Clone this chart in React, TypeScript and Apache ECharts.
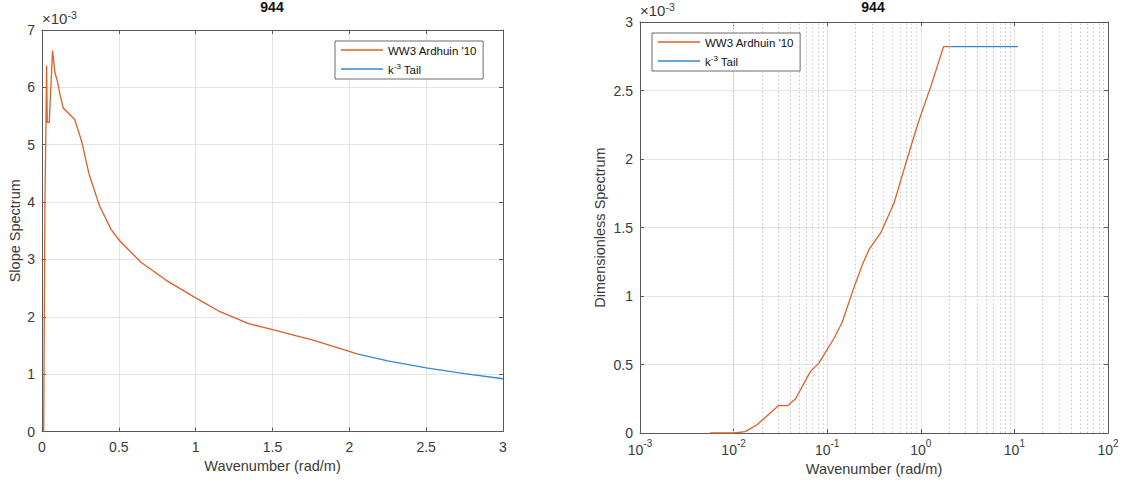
import React, { useEffect, useRef } from "react";
import * as echarts from "echarts";

// Left panel: Slope spectrum (values in units of 1e-3)
const leftOrangeX = [0.011, 0.019, 0.026, 0.030, 0.034, 0.047, 0.069, 0.084, 0.099, 0.116, 0.138, 0.213, 0.257, 0.306, 0.375, 0.45, 0.504, 0.644, 0.806, 1.0, 1.15, 1.345, 1.495, 1.668, 1.754, 2.056];
const leftOrangeY = [0, 4.0, 5.4, 6.38, 5.39, 5.39, 6.64, 6.26, 6.12, 5.89, 5.64, 5.44, 5.07, 4.49, 3.93, 3.52, 3.33, 2.95, 2.64, 2.33, 2.10, 1.88, 1.78, 1.66, 1.60, 1.35];
const leftBlueX = [2.056, 2.25, 2.5, 2.75, 3.0];
const leftBlueY = [1.35, 1.23, 1.11, 1.01, 0.92];

// Right panel: Dimensionless spectrum (values in units of 1e-3)
const rightOrangeX = [0.0056, 0.01, 0.0133, 0.0178, 0.0303, 0.0379, 0.0459, 0.0664, 0.0815, 0.118, 0.145, 0.186, 0.238, 0.28, 0.373, 0.519, 0.7, 0.885, 1.0, 1.28, 1.75, 2.07];
const rightOrangeY = [0, 0, 0.01, 0.06, 0.20, 0.20, 0.25, 0.45, 0.51, 0.69, 0.81, 1.03, 1.23, 1.34, 1.46, 1.68, 1.98, 2.21, 2.32, 2.53, 2.82, 2.82];
const rightBlueX = [2.07, 10.9];
const rightBlueY = [2.82, 2.82];

const leftXTicks = [0, 3, 0.5];
const leftYTicks = [0, 7, 1];
const rightYTicks = [0, 3, 0.5];
const decades = [-3, -2, -1, 0, 1];
const minorMultipliers = [2, 3, 4, 5, 6, 7, 8, 9];

const seriesNames = ["WW3 Ardhuin '10", "k^-3 Tail"];
const titleText = "944";

const ORANGE = "#DE5F26";
const BLUE = "#2F8AD3";
const AXIS = "#5a5a5a";
const LABEL = "#3a3a3a";
const GRID = "#e4e4e4";
const FONT = "Liberation Sans, Arial, sans-serif";
const TICK_FS = 14;
const NAME_FS = 14.5;

const zip = (xs: number[], ys: number[]) => xs.map((x, i) => [x, ys[i]]);

export default function App() {
  const ref = useRef<HTMLDivElement>(null);
  useEffect(() => {
    document.body.style.margin = "0";
    if (!ref.current) return;
    const chart = echarts.init(ref.current, undefined, { renderer: "svg" });

    const minorX: number[] = [];
    decades.forEach((d) => minorMultipliers.forEach((m) => minorX.push(m * Math.pow(10, d))));

    const baseAxis = {
      axisLine: { show: true, onZero: false, lineStyle: { color: AXIS, width: 1 } },
      axisTick: { show: true, inside: true, length: 4, lineStyle: { color: AXIS } },
      axisLabel: { color: LABEL, fontSize: TICK_FS, fontFamily: FONT },
      nameTextStyle: { color: LABEL, fontSize: NAME_FS, fontFamily: FONT },
    };
    const hiddenAxis = {
      axisLine: { show: true, onZero: false, lineStyle: { color: AXIS, width: 1 } },
      axisTick: { show: true, inside: true, length: 4, lineStyle: { color: AXIS } },
      axisLabel: { show: false },
      splitLine: { show: false },
    };

    const logFormatter = (v: number) => `{b|10}{s|${Math.round(Math.log10(v))}}`;
    const logRich = {
      b: { fontSize: TICK_FS, color: LABEL, fontFamily: FONT, lineHeight: 19, verticalAlign: "bottom" },
      s: { fontSize: 10, color: LABEL, fontFamily: FONT, lineHeight: 10, verticalAlign: "top" },
    };

    const legendBase = {
      orient: "vertical",
      icon: "rect",
      itemWidth: 42,
      itemHeight: 1.5,
      itemGap: 5,
      padding: [4, 6, 3, 6],
      borderColor: "#6a6a6a",
      borderWidth: 1,
      backgroundColor: "#fff",
      selectedMode: false,
      data: seriesNames,
      formatter: (name: string) => (name === seriesNames[1] ? "{t|k}{s|-3}{t| Tail}" : `{t|${name}}`),
      textStyle: {
        fontFamily: FONT,
        color: "#111",
        fontSize: 11.5,
        rich: {
          t: { fontSize: 11.5, fontFamily: FONT, color: "#111", lineHeight: 14, verticalAlign: "bottom" },
          s: { fontSize: 8, fontFamily: FONT, color: "#111", lineHeight: 8, verticalAlign: "top" },
        },
      },
    };

    const superRich = {
      a: { fontSize: 15, fontFamily: FONT, fill: LABEL, lineHeight: 17, verticalAlign: "bottom" },
      s: { fontSize: 10.5, fontFamily: FONT, fill: LABEL, lineHeight: 10, verticalAlign: "top" },
    };

    const titleStyle = { fontSize: 14, fontWeight: "bold", color: "#111", fontFamily: FONT };

    const option: any = {
      animation: false,
      backgroundColor: "#fff",
      title: [
        { text: titleText, left: 272, top: 0, textAlign: "center", padding: 0, textStyle: titleStyle },
        { text: titleText, left: 873, top: 0, textAlign: "center", padding: 0, textStyle: titleStyle },
      ],
      legend: [
        { ...legendBase, left: 335, top: 41 },
        { ...legendBase, left: 652, top: 33 },
      ],
      graphic: [
        { type: "text", left: 42, top: 9, style: { text: "{a|×10}{s|-3}", rich: superRich } },
        { type: "text", left: 640, top: 1, style: { text: "{a|×10}{s|-3}", rich: superRich } },
      ],
      grid: [
        { left: 42, right: 622, top: 30, bottom: 53.5, containLabel: false },
        { left: 640, right: 17, top: 22, bottom: 52, containLabel: false },
      ],
      xAxis: [
        {
          ...baseAxis, gridIndex: 0, type: "value", min: leftXTicks[0], max: leftXTicks[1], interval: leftXTicks[2],
          name: "Wavenumber (rad/m)", nameLocation: "middle", nameGap: 27,
          axisLabel: { ...baseAxis.axisLabel, margin: 8 },
          splitLine: { show: true, lineStyle: { color: GRID, width: 1 } },
        },
        { ...hiddenAxis, gridIndex: 0, type: "value", position: "top", min: leftXTicks[0], max: leftXTicks[1], interval: leftXTicks[2] },
        {
          ...baseAxis, gridIndex: 1, type: "log", logBase: 10, min: 0.001, max: 100,
          name: "Wavenumber (rad/m)", nameLocation: "middle", nameGap: 28,
          axisLabel: { ...baseAxis.axisLabel, margin: 5, formatter: logFormatter, rich: logRich },
          splitLine: { show: true, lineStyle: { color: GRID, width: 1 } },
        },
        { ...hiddenAxis, gridIndex: 1, type: "log", logBase: 10, position: "top", min: 0.001, max: 100 },
      ],
      yAxis: [
        {
          ...baseAxis, gridIndex: 0, type: "value", min: leftYTicks[0], max: leftYTicks[1], interval: leftYTicks[2],
          name: "Slope Spectrum", nameLocation: "middle", nameGap: 20, nameRotate: 90,
          axisLabel: { ...baseAxis.axisLabel, margin: 7 },
          splitLine: { show: true, lineStyle: { color: GRID, width: 1 } },
        },
        { ...hiddenAxis, gridIndex: 0, type: "value", position: "right", min: leftYTicks[0], max: leftYTicks[1], interval: leftYTicks[2] },
        {
          ...baseAxis, gridIndex: 1, type: "value", min: rightYTicks[0], max: rightYTicks[1], interval: rightYTicks[2],
          name: "Dimensionless Spectrum", nameLocation: "middle", nameGap: 33, nameRotate: 90,
          axisLabel: { ...baseAxis.axisLabel, margin: 7 },
          splitLine: { show: true, lineStyle: { color: GRID, width: 1 } },
        },
        { ...hiddenAxis, gridIndex: 1, type: "value", position: "right", min: rightYTicks[0], max: rightYTicks[1], interval: rightYTicks[2] },
      ],
      series: [
        {
          name: seriesNames[0], type: "line", xAxisIndex: 0, yAxisIndex: 0, data: zip(leftOrangeX, leftOrangeY),
          symbol: "none", lineStyle: { color: ORANGE, width: 1.3 }, itemStyle: { color: ORANGE }, z: 3,
        },
        {
          name: seriesNames[1], type: "line", xAxisIndex: 0, yAxisIndex: 0, data: zip(leftBlueX, leftBlueY),
          symbol: "none", lineStyle: { color: BLUE, width: 1.3 }, itemStyle: { color: BLUE }, z: 3,
        },
        {
          name: seriesNames[0], type: "line", xAxisIndex: 2, yAxisIndex: 2, data: zip(rightOrangeX, rightOrangeY),
          symbol: "none", lineStyle: { color: ORANGE, width: 1.3 }, itemStyle: { color: ORANGE }, z: 3,
        },
        {
          name: seriesNames[1], type: "line", xAxisIndex: 2, yAxisIndex: 2, data: zip(rightBlueX, rightBlueY),
          symbol: "none", lineStyle: { color: BLUE, width: 1.3 }, itemStyle: { color: BLUE }, z: 3,
          markLine: {
            silent: true, symbol: ["none", "none"], label: { show: false }, z: 1,
            lineStyle: { color: "#c8c8c8", width: 1, type: [1.5, 2.5] },
            data: minorX.map((v) => ({ xAxis: v })),
          },
        },
      ],
    };
    chart.setOption(option);
    return () => chart.dispose();
  }, []);
  return <div ref={ref} style={{ width: 1125, height: 485 }} />;
}
